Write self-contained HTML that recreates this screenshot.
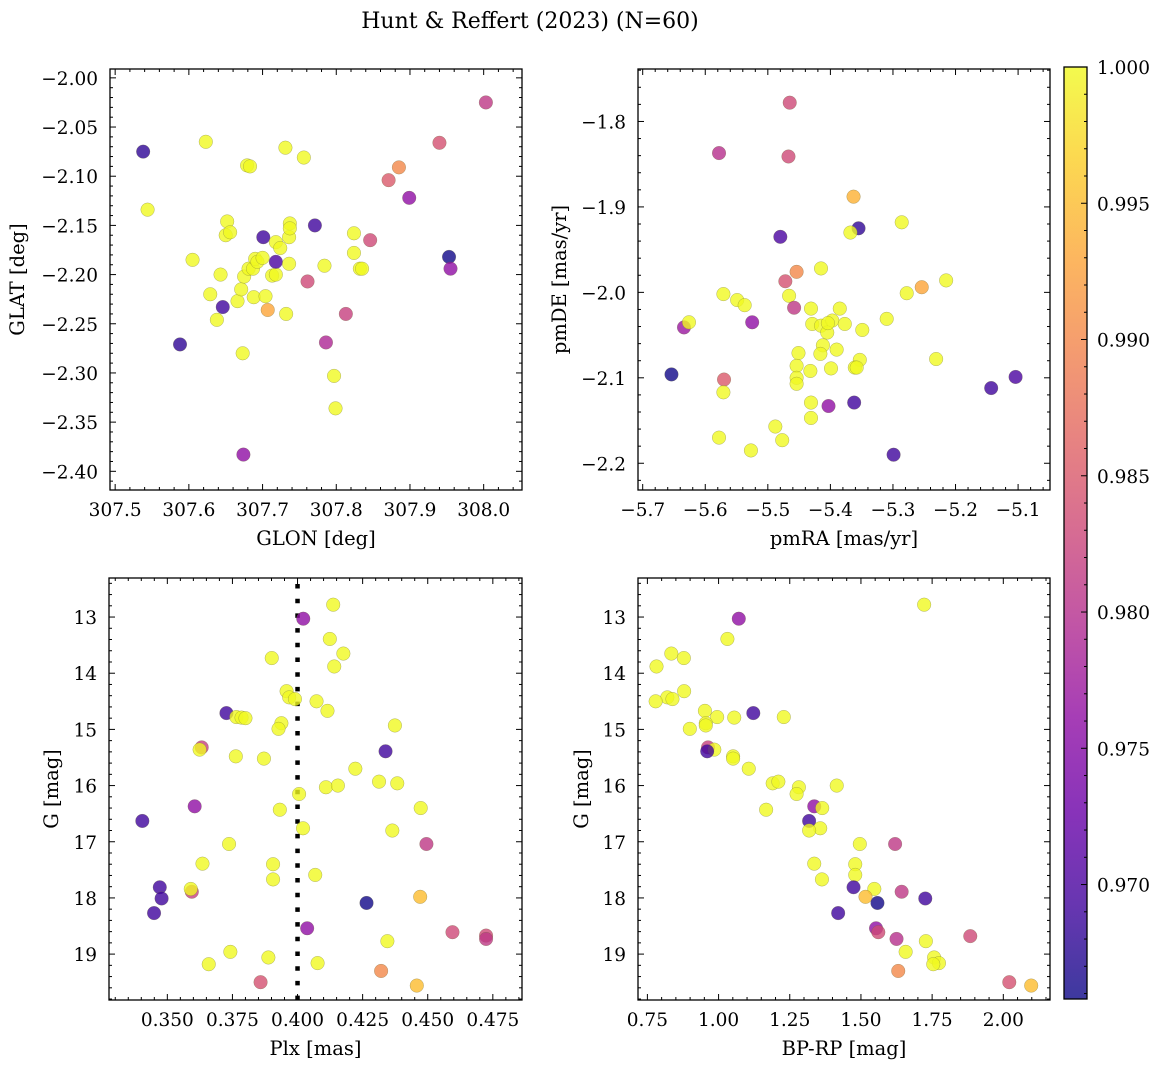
<!DOCTYPE html>
<html><head><meta charset="utf-8">
<style>
html,body{margin:0;padding:0;background:#fff;}
svg text{font-family:"DejaVu Serif","Liberation Serif",serif;fill:#000;}
</style></head>
<body>
<svg id="fig" width="1161" height="1067" viewBox="0 0 1161 1067" xmlns="http://www.w3.org/2000/svg">
<text x="530" y="28" font-size="22" text-anchor="middle">Hunt &amp; Reffert (2023) (N=60)</text>
</svg>
<script>
// ---- data ----
const glon=[307.538,307.544,307.623,307.605,307.588,307.629,307.638,307.643,307.646,307.652,307.650,307.656,307.666,307.671,307.675,307.673,307.674,307.679,307.683,307.681,307.687,307.688,307.690,307.693,307.701,307.700,307.704,307.707,307.713,307.718,307.718,307.718,307.724,307.731,307.736,307.737,307.737,307.736,307.732,307.756,307.761,307.771,307.784,307.786,307.797,307.799,307.813,307.824,307.824,307.832,307.835,307.846,307.871,307.885,307.899,307.940,307.953,307.955,308.003];
const glat=[-2.075,-2.134,-2.065,-2.185,-2.271,-2.220,-2.246,-2.200,-2.233,-2.146,-2.160,-2.157,-2.227,-2.215,-2.202,-2.280,-2.383,-2.089,-2.090,-2.194,-2.194,-2.223,-2.184,-2.187,-2.162,-2.183,-2.222,-2.236,-2.201,-2.200,-2.187,-2.167,-2.173,-2.071,-2.162,-2.148,-2.153,-2.189,-2.240,-2.081,-2.207,-2.150,-2.191,-2.269,-2.303,-2.336,-2.240,-2.158,-2.178,-2.194,-2.194,-2.165,-2.104,-2.091,-2.122,-2.066,-2.182,-2.194,-2.025];
const prob1=[.968,1,1,1,.968,1,1,1,.969,1,1,1,1,1,1,1,.976,1,1,1,1,1,1,1,.969,1,1,.993,1,1,.970,1,1,1,1,1,1,1,1,1,.983,.969,1,.979,1,1,.982,1,1,1,1,.983,.985,.990,.976,.984,.966,.976,.981];

const pmra=[-5.465,-5.578,-5.467,-5.363,-5.355,-5.368,-5.286,-5.480,-5.415,-5.454,-5.472,-5.215,-5.254,-5.571,-5.278,-5.466,-5.549,-5.537,-5.458,-5.431,-5.385,-5.634,-5.626,-5.525,-5.429,-5.415,-5.397,-5.377,-5.405,-5.349,-5.310,-5.412,-5.390,-5.451,-5.416,-5.454,-5.432,-5.399,-5.353,-5.361,-5.231,-5.654,-5.570,-5.454,-5.454,-5.571,-5.143,-5.104,-5.431,-5.403,-5.362,-5.431,-5.488,-5.578,-5.477,-5.527,-5.299,-5.358,-5.404];
const pmde=[-1.778,-1.837,-1.841,-1.888,-1.925,-1.930,-1.918,-1.935,-1.972,-1.976,-1.987,-1.986,-1.994,-2.002,-2.001,-2.004,-2.009,-2.015,-2.018,-2.019,-2.019,-2.041,-2.035,-2.035,-2.037,-2.039,-2.033,-2.037,-2.047,-2.044,-2.031,-2.062,-2.067,-2.071,-2.072,-2.086,-2.092,-2.089,-2.079,-2.088,-2.078,-2.096,-2.102,-2.100,-2.107,-2.117,-2.112,-2.099,-2.129,-2.133,-2.129,-2.147,-2.157,-2.170,-2.173,-2.185,-2.190,-2.088,-2.036];
const prob2=[.983,.980,.983,.994,.968,1,1,.970,1,.990,.984,1,.993,1,1,1,1,1,.981,1,1,.977,1,.976,1,1,1,1,1,1,1,1,1,1,1,1,1,1,1,1,1,.966,.985,1,1,1,.969,.970,1,.976,.969,1,1,1,1,1,.969,1,1];

const plx=[.4137,.4022,.4124,.4176,.3901,.4141,.3958,.3968,.3990,.4073,.4115,.3727,.3765,.3785,.3800,.3938,.3927,.4374,.3632,.3624,.3763,.3871,.4338,.4222,.4313,.4383,.4109,.4155,.4006,.3605,.3932,.4473,.3404,.4021,.4364,.3737,.4495,.3635,.3906,.4068,.3906,.3471,.3594,.3590,.3478,.4471,.4265,.3449,.4037,.4595,.4724,.4724,.4345,.3742,.3888,.3659,.4077,.4321,.3858,.4458];
const gmag3=[12.78,13.03,13.39,13.65,13.73,13.88,14.32,14.43,14.46,14.50,14.67,14.71,14.78,14.79,14.80,14.89,14.99,14.93,15.32,15.36,15.48,15.52,15.39,15.70,15.93,15.96,16.03,16.00,16.15,16.37,16.43,16.40,16.63,16.76,16.80,17.04,17.04,17.39,17.40,17.59,17.67,17.81,17.89,17.84,18.01,17.98,18.09,18.27,18.54,18.61,18.67,18.73,18.77,18.96,19.06,19.18,19.16,19.30,19.50,19.56];
const prob3=[1,.976,1,1,1,1,1,1,1,1,1,.969,1,1,1,1,1,1,.982,1,1,1,.969,1,1,1,1,1,1,.976,1,1,.969,1,1,1,.981,1,1,1,1,.969,.982,1,.969,.995,.966,.969,.976,.983,.983,.981,1,1,1,1,1,.990,.984,.995];
const plxRef=[0.400];

const bprp=[1.722,1.071,1.031,0.834,0.878,0.782,0.879,0.820,0.838,0.779,0.952,1.122,0.995,1.055,1.229,0.955,0.899,0.955,0.963,0.985,0.960,1.051,1.051,1.106,1.190,1.210,1.282,1.415,1.274,1.336,1.167,1.364,1.318,1.357,1.318,1.496,1.620,1.336,1.480,1.480,1.363,1.474,1.643,1.547,1.726,1.516,1.558,1.420,1.553,1.884,1.561,1.625,1.728,1.657,1.757,1.774,1.754,1.631,2.021,2.098];
const gmag4=[12.78,13.03,13.39,13.65,13.73,13.88,14.32,14.43,14.46,14.50,14.67,14.71,14.78,14.79,14.78,14.89,14.99,14.93,15.32,15.36,15.39,15.48,15.52,15.70,15.96,15.93,16.03,16.00,16.15,16.37,16.43,16.40,16.63,16.76,16.80,17.04,17.04,17.39,17.40,17.59,17.67,17.81,17.89,17.84,18.01,17.98,18.09,18.27,18.54,18.68,18.61,18.73,18.77,18.96,19.06,19.16,19.18,19.30,19.50,19.56];
const prob4=[1,.976,1,1,1,1,1,1,1,1,1,.969,1,1,1,1,1,1,.982,1,.969,1,1,1,1,1,1,1,1,.976,1,1,.969,1,1,1,.981,1,1,1,1,.969,.981,1,.969,.995,.966,.969,.976,.983,.983,.980,1,1,1,1,1,.990,.984,.995];

const ticks1x=[307.5,307.6,307.7,307.8,307.9,308.0];
const ticks1y=[-2.00,-2.05,-2.10,-2.15,-2.20,-2.25,-2.30,-2.35,-2.40];
const ticks2x=[-5.7,-5.6,-5.5,-5.4,-5.3,-5.2,-5.1];
const ticks2y=[-1.8,-1.9,-2.0,-2.1,-2.2];
const ticks3x=[0.350,0.375,0.400,0.425,0.450,0.475];
const ticksG=[13,14,15,16,17,18,19];
const ticks4x=[0.75,1.00,1.25,1.50,1.75,2.00];
const cbTicks=[1.000,0.995,0.990,0.985,0.980,0.975,0.970];
const vmin=0.9658, vmax=1.0;

// ---- helpers ----
const NS="http://www.w3.org/2000/svg";
const svg=document.getElementById('fig');
function mk(tag,attrs,parent){const e=document.createElementNS(NS,tag);for(const k in attrs)e.setAttribute(k,attrs[k]);(parent||svg).appendChild(e);return e;}
const plasma=[[13,8,135],[65,4,157],[106,0,168],[143,13,164],[177,42,144],[204,71,120],[225,100,98],[242,132,75],[252,166,54],[252,206,37],[240,249,33]];
function cmap(v){let t=(v-vmin)/(vmax-vmin);t=Math.max(0,Math.min(1,t));const p=t*10;const i=Math.min(9,Math.floor(p));const f=p-i;const a=plasma[i],b=plasma[i+1];return 'rgb('+[0,1,2].map(k=>Math.round(a[k]+(b[k]-a[k])*f)).join(',')+')';}
function fmt(v,d){return v.toFixed(d).replace('-','\u2212');}

function panel(o){
  const g=mk('g',{});
  
  
  const sx=v=>o.L+(v-o.x0)/(o.x1-o.x0)*(o.R-o.L);
  const sy=v=>o.T+(v-o.y0)/(o.y1-o.y0)*(o.B-o.T);
  const tg=mk('g',{stroke:'#000','stroke-width':1},g);
  
  
  const xs=Math.min(o.x0,o.x1), xe=Math.max(o.x0,o.x1);
  for(let k=Math.ceil(xs/o.xminor-1e-6);k*o.xminor<=xe+1e-9;k++){const v=k*o.xminor;const X=sx(v);
    const major=o.xt.some(t=>Math.abs(t-v)<o.xminor/10);const len=major?6:3;
    mk('line',{x1:X,x2:X,y1:o.B,y2:o.B-len},tg);mk('line',{x1:X,x2:X,y1:o.T,y2:o.T+len},tg);}
  const ys=Math.min(o.y0,o.y1), ye=Math.max(o.y0,o.y1);
  for(let k=Math.ceil(ys/o.yminor-1e-6);k*o.yminor<=ye+1e-9;k++){const v=k*o.yminor;const Y=sy(v);
    const major=o.yt.some(t=>Math.abs(t-v)<o.yminor/10);const len=major?6:3;
    mk('line',{x1:o.L,x2:o.L+len,y1:Y,y2:Y},tg);mk('line',{x1:o.R,x2:o.R-len,y1:Y,y2:Y},tg);}
  o.xt.forEach(v=>{const t=mk('text',{x:sx(v),y:o.B+26,'font-size':18.5,'text-anchor':'middle'},g);t.textContent=fmt(v,o.xd);
    
    });
  o.yt.forEach(v=>{const t=mk('text',{x:o.L-12,y:sy(v)+7,'font-size':18.5,'text-anchor':'end'},g);t.textContent=fmt(v,o.yd);
    
    });
  const xl=mk('text',{x:(o.L+o.R)/2,y:o.B+55,'font-size':19.5,'text-anchor':'middle'},g);xl.textContent=o.xlab;
  
  
  const yl=mk('text',{x:0,y:0,'font-size':19.5,'text-anchor':'middle',transform:'translate('+o.ylx+','+(o.T+o.B)/2+') rotate(-90)'},g);yl.textContent=o.ylab;
  
  
  if(o.vline){o.vline.forEach(v=>{const l=mk('line',{x1:sx(v),x2:sx(v),y1:o.T+6,y2:o.B,stroke:'#000','stroke-width':4.5,'stroke-dasharray':'4.5 10.2'},g);
    
    });}
  const pg=mk('g',{},g);
  
  
  o.xs.forEach((xv,i)=>{const c=mk('circle',{cx:sx(xv),cy:sy(o.ys[i]),r:6.8,fill:cmap(o.cs[i]),'fill-opacity':0.8,stroke:'#6a6a3a','stroke-opacity':0.5,'stroke-width':0.5},pg);
    
    });
  const fr=mk('rect',{x:o.L,y:o.T,width:o.R-o.L,height:o.B-o.T,fill:'none',stroke:'#000','stroke-width':1.3},g);
  
  
}

panel({name:'glon-glat-panel',L:110,R:522,T:69,B:490,x0:307.493,x1:308.052,y0:-1.991,y1:-2.419,xt:ticks1x,yt:ticks1y,xminor:0.02,yminor:0.01,xd:1,yd:2,xlab:'GLON [deg]',ylab:'GLAT [deg]',ylx:24,xs:glon,ys:glat,cs:prob1});
panel({name:'proper-motion-panel',L:638,R:1050,T:69,B:490,x0:-5.7075,x1:-5.049,y0:-1.7386,y1:-2.2313,xt:ticks2x,yt:ticks2y,xminor:0.02,yminor:0.02,xd:1,yd:1,xlab:'pmRA [mas/yr]',ylab:'pmDE [mas/yr]',ylx:566,xs:pmra,ys:pmde,cs:prob2});
panel({name:'parallax-panel',L:109,R:522,T:578,B:1000,x0:0.3276,x1:0.4862,y0:12.305,y1:19.817,xt:ticks3x,yt:ticksG,xminor:0.005,yminor:0.2,xd:3,yd:0,xlab:'Plx [mas]',ylab:'G [mag]',ylx:58,xs:plx,ys:gmag3,cs:prob3,vline:plxRef});
panel({name:'cmd-panel',L:638,R:1050,T:578,B:1000,x0:0.717,x1:2.164,y0:12.305,y1:19.817,xt:ticks4x,yt:ticksG,xminor:0.05,yminor:0.2,xd:2,yd:0,xlab:'BP-RP [mag]',ylab:'G [mag]',ylx:588,xs:bprp,ys:gmag4,cs:prob4});

(function(){
  const L=1064,R=1087,T=67,B=999;
  const cb=mk('g',{});
  
  
  const defs=mk('defs',{},cb);
  const gr=mk('linearGradient',{id:'cbg',x1:0,y1:1,x2:0,y2:0},defs);
  plasma.forEach((c,i)=>mk('stop',{offset:(i/10),'stop-color':'rgb('+c.join(',')+')','stop-opacity':0.8},gr));
  mk('rect',{x:L,y:T,width:R-L,height:B-T,fill:'url(#cbg)'},cb);
  const sy=v=>T+(vmax-v)/(vmax-vmin)*(B-T);
  for(let k=Math.ceil(vmin/0.001);k<=1000;k++){const v=k/1000;const Y=sy(v);const major=(k%5===0);
    mk('line',{x1:R,x2:R-(major?6:3),y1:Y,y2:Y,stroke:'#000','stroke-width':1},cb);}
  cbTicks.forEach(v=>{const t=mk('text',{x:R+10,y:sy(v)+7,'font-size':18.5},cb);t.textContent=v.toFixed(3);
    
    });
  mk('rect',{x:L,y:T,width:R-L,height:B-T,fill:'none',stroke:'#000','stroke-width':1.3},cb);
})();
</script>
</body></html>
